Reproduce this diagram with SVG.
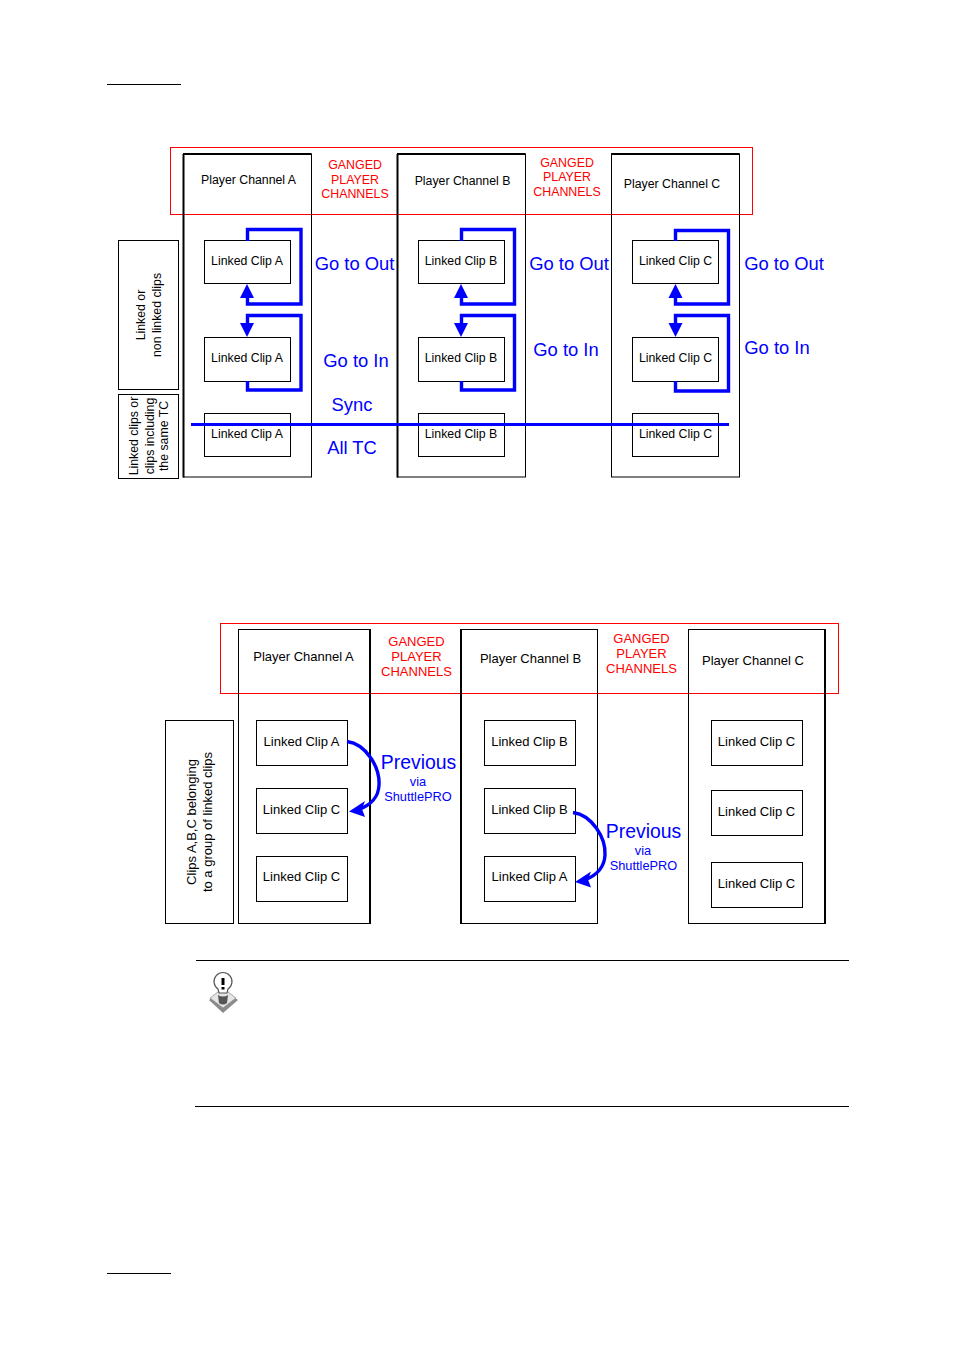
<svg xmlns="http://www.w3.org/2000/svg" width="954" height="1350" viewBox="0 0 954 1350">
<style>
text{font-family:"Liberation Sans",Arial,sans-serif;fill:#000;text-anchor:middle}
.box{fill:none;stroke:#000;stroke-width:1}
.ch{fill:none;stroke:#000;stroke-width:1}
.thick{fill:none;stroke:#000;stroke-width:2}
.gang{fill:none;stroke:#f00;stroke-width:1}
.rule{stroke:#000;stroke-width:1}
.loop{fill:none;stroke:#00f;stroke-width:3.4}
.curve{fill:none;stroke:#00f;stroke-width:3.4}
.head{fill:#00f}
.s{font-size:12.3px}
.m{font-size:13px}
.r1{font-size:12.4px;fill:#f00}
.r2{font-size:13px;fill:#f00}
.b{font-size:18.4px;fill:#00f}
.p{font-size:19.4px;fill:#00f}
.v{font-size:12.8px;fill:#00f}
</style>
<g id="page-rules">
<line class="rule" x1="107" y1="84.500" x2="181" y2="84.500"/>
<line class="rule" x1="107" y1="1273.500" x2="171" y2="1273.500"/>
<line class="rule" x1="196" y1="960.500" x2="849" y2="960.500"/>
<line class="rule" x1="195" y1="1106.500" x2="849" y2="1106.500"/>
</g>
<g id="top-frame"><rect class="gang" x="170.500" y="147.500" width="582" height="67"/></g>
<g id="t-channel-a"><rect class="ch" x="183.500" y="154" width="128" height="323"/><path class="thick" d="M183 154H311.500M183.500 154V477.500"/><text class="s" x="248.500" y="184">Player Channel A</text></g>
<g id="t-channel-b"><rect class="ch" x="397.500" y="154" width="128" height="323"/><path class="thick" d="M397 154H525.500M397.500 154V477.500"/><text class="s" x="462.500" y="185">Player Channel B</text></g>
<g id="t-channel-c"><rect class="ch" x="611.500" y="154" width="128" height="323"/><path class="thick" d="M611 154H739.500"/><text class="s" x="672" y="188">Player Channel C</text></g>
<g id="t-gang-1"><text class="r1" x="355" y="169">GANGED</text><text class="r1" x="355" y="183.500">PLAYER</text><text class="r1" x="355" y="198">CHANNELS</text></g>
<g id="t-gang-2"><text class="r1" x="567" y="166.500">GANGED</text><text class="r1" x="567" y="181">PLAYER</text><text class="r1" x="567" y="196">CHANNELS</text></g>
<g id="t-side-1"><rect class="box" x="118.500" y="240.500" width="60" height="149"/><text class="s" transform="translate(145,315) rotate(-90)"><tspan x="0" y="0">Linked or</tspan><tspan x="0" y="15.500">non linked clips</tspan></text></g>
<g id="t-side-2"><rect class="box" x="118.500" y="394.500" width="60" height="84"/><text class="s" transform="translate(138,436) rotate(-90)"><tspan x="0" y="0">Linked clips or</tspan><tspan x="0" y="15.500">clips including</tspan><tspan x="0" y="29.500">the same TC</tspan></text></g>
<g id="t-a1"><rect class="box" x="204.500" y="240.500" width="86" height="43"/><text class="s" x="247" y="265">Linked Clip A</text></g>
<g id="t-a2"><rect class="box" x="204.500" y="337.500" width="86" height="44"/><text class="s" x="247" y="362">Linked Clip A</text></g>
<g id="t-a3"><rect class="box" x="204.500" y="413.500" width="86" height="43"/><text class="s" x="247" y="438">Linked Clip A</text></g>
<g id="t-b1"><rect class="box" x="418.500" y="240.500" width="86" height="43"/><text class="s" x="461" y="265">Linked Clip B</text></g>
<g id="t-b2"><rect class="box" x="418.500" y="337.500" width="86" height="44"/><text class="s" x="461" y="362">Linked Clip B</text></g>
<g id="t-b3"><rect class="box" x="418.500" y="413.500" width="86" height="43"/><text class="s" x="461" y="438">Linked Clip B</text></g>
<g id="t-c1"><rect class="box" x="632.500" y="240.500" width="86" height="43"/><text class="s" x="675.500" y="265">Linked Clip C</text></g>
<g id="t-c2"><rect class="box" x="632.500" y="337.500" width="86" height="44"/><text class="s" x="675.500" y="362">Linked Clip C</text></g>
<g id="t-c3"><rect class="box" x="632.500" y="413.500" width="86" height="43"/><text class="s" x="675.500" y="438">Linked Clip C</text></g>
<g id="t-labels">
<text class="b" x="354.500" y="270">Go to Out</text><text class="b" x="356" y="367">Go to In</text><text class="b" x="352" y="411">Sync</text><text class="b" x="352" y="454">All TC</text>
<text class="b" x="569" y="270">Go to Out</text><text class="b" x="566" y="356">Go to In</text>
<text class="b" x="784" y="270">Go to Out</text><text class="b" x="777" y="354">Go to In</text>
</g>
<g id="top-connectors">
<path class="loop" d="M247.500 241V229.500H301V304H247.500V292"/><path class="head" d="M247 284L254 298H240Z"/>
<path class="loop" d="M247.500 381V390H301V315.500H247.500V328"/><path class="head" d="M247 337L240 323H254Z"/>
<path class="loop" d="M461.500 241V229.500H514.500V304H461.500V292"/><path class="head" d="M461 284L468 298H454Z"/>
<path class="loop" d="M461.500 381V390H514.500V315.500H461.500V328"/><path class="head" d="M461 337L454 323H468Z"/>
<path class="loop" d="M675.500 241V230.500H728.500V304H675.500V292"/><path class="head" d="M675.500 284L682.500 298H668.500Z"/>
<path class="loop" d="M675.500 381V391H728.500V315.500H675.500V328"/><path class="head" d="M675.500 337L668.500 323H682.500Z"/>
<line x1="191" y1="424.500" x2="729" y2="424.500" stroke="#00f" stroke-width="3"/>
</g>
<g id="bottom-frame"><rect class="gang" x="220.500" y="623.500" width="618" height="70"/></g>
<g id="b-channel-a"><rect class="ch" x="238.500" y="629.500" width="131.500" height="294"/><line class="thick" x1="370" y1="629" x2="370" y2="924"/><text class="m" x="303.500" y="661">Player Channel A</text></g>
<g id="b-channel-b"><rect class="ch" x="461" y="629.500" width="136.500" height="294"/><line class="thick" x1="461" y1="629" x2="461" y2="924"/><text class="m" x="530.500" y="663">Player Channel B</text></g>
<g id="b-channel-c"><rect class="ch" x="688.500" y="629.500" width="136.500" height="294"/><line class="thick" x1="825" y1="629" x2="825" y2="924"/><text class="m" x="753" y="665">Player Channel C</text></g>
<g id="b-gang-1"><text class="r2" x="416.500" y="646">GANGED</text><text class="r2" x="416.500" y="661">PLAYER</text><text class="r2" x="416.500" y="676">CHANNELS</text></g>
<g id="b-gang-2"><text class="r2" x="641.500" y="643">GANGED</text><text class="r2" x="641.500" y="658">PLAYER</text><text class="r2" x="641.500" y="673">CHANNELS</text></g>
<g id="b-side"><rect class="box" x="165.500" y="720.500" width="68" height="203"/><text class="m" transform="translate(196,822) rotate(-90)"><tspan x="0" y="0">Clips A,B,C belonging</tspan><tspan x="0" y="16">to a group of linked clips</tspan></text></g>
<g id="b-a1"><rect class="box" x="256.500" y="720.500" width="91" height="45"/><text class="m" x="301.500" y="746">Linked Clip A</text></g>
<g id="b-a2"><rect class="box" x="256.500" y="788.500" width="91" height="45"/><text class="m" x="301.500" y="814">Linked Clip C</text></g>
<g id="b-a3"><rect class="box" x="256.500" y="856.500" width="91" height="45"/><text class="m" x="301.500" y="881">Linked Clip C</text></g>
<g id="b-b1"><rect class="box" x="484.500" y="720.500" width="91" height="45"/><text class="m" x="529.500" y="746">Linked Clip B</text></g>
<g id="b-b2"><rect class="box" x="484.500" y="788.500" width="91" height="45"/><text class="m" x="529.500" y="814">Linked Clip B</text></g>
<g id="b-b3"><rect class="box" x="484.500" y="856.500" width="91" height="45"/><text class="m" x="529.500" y="881">Linked Clip A</text></g>
<g id="b-c1"><rect class="box" x="711.500" y="720.500" width="91" height="45"/><text class="m" x="756.500" y="746">Linked Clip C</text></g>
<g id="b-c2"><rect class="box" x="711.500" y="790.500" width="91" height="45"/><text class="m" x="756.500" y="816">Linked Clip C</text></g>
<g id="b-c3"><rect class="box" x="711.500" y="862.500" width="91" height="45"/><text class="m" x="756.500" y="888">Linked Clip C</text></g>
<g id="b-labels">
<text class="p" x="418.500" y="769">Previous</text><text class="v" x="418" y="786">via</text><text class="v" x="418" y="801">ShuttlePRO</text>
<text class="p" x="643.500" y="838">Previous</text><text class="v" x="643" y="855">via</text><text class="v" x="643.500" y="870">ShuttlePRO</text>
</g>
<g id="bottom-connectors">
<path class="curve" d="M347 741.500C366 744 380 767 379 785C378.500 798 371 805 358 810"/><path class="head" d="M349 811.500L365 801L362 809L365 817Z"/>
<path class="curve" d="M573 812.500C592 815 606 838 605 855C604.500 868 597 875 585 880"/><path class="head" d="M575 882L591 871.500L588 879.500L591 887.500Z"/>
</g>
<g id="note-icon">
<path d="M223 990L238 1000L223 1013L209 1000Z" fill="#8a8a8a"/>
<path d="M223 988L236 998L223 1008L210 998Z" fill="#e4e4e4" stroke="#888" stroke-width="0.7"/>
<path d="M218 995Q223 998 228 995L227 1003Q223 1006 219 1003Z" fill="#555"/>
<path d="M219 993L218 989A9 9 0 1 1 228 989L227 993Z" fill="#fff" stroke="#555" stroke-width="1.200"/>
<rect x="221.500" y="978" width="3" height="7" fill="#000"/>
<rect x="221.500" y="987" width="3" height="2.500" fill="#000"/>
</g>
</svg>
